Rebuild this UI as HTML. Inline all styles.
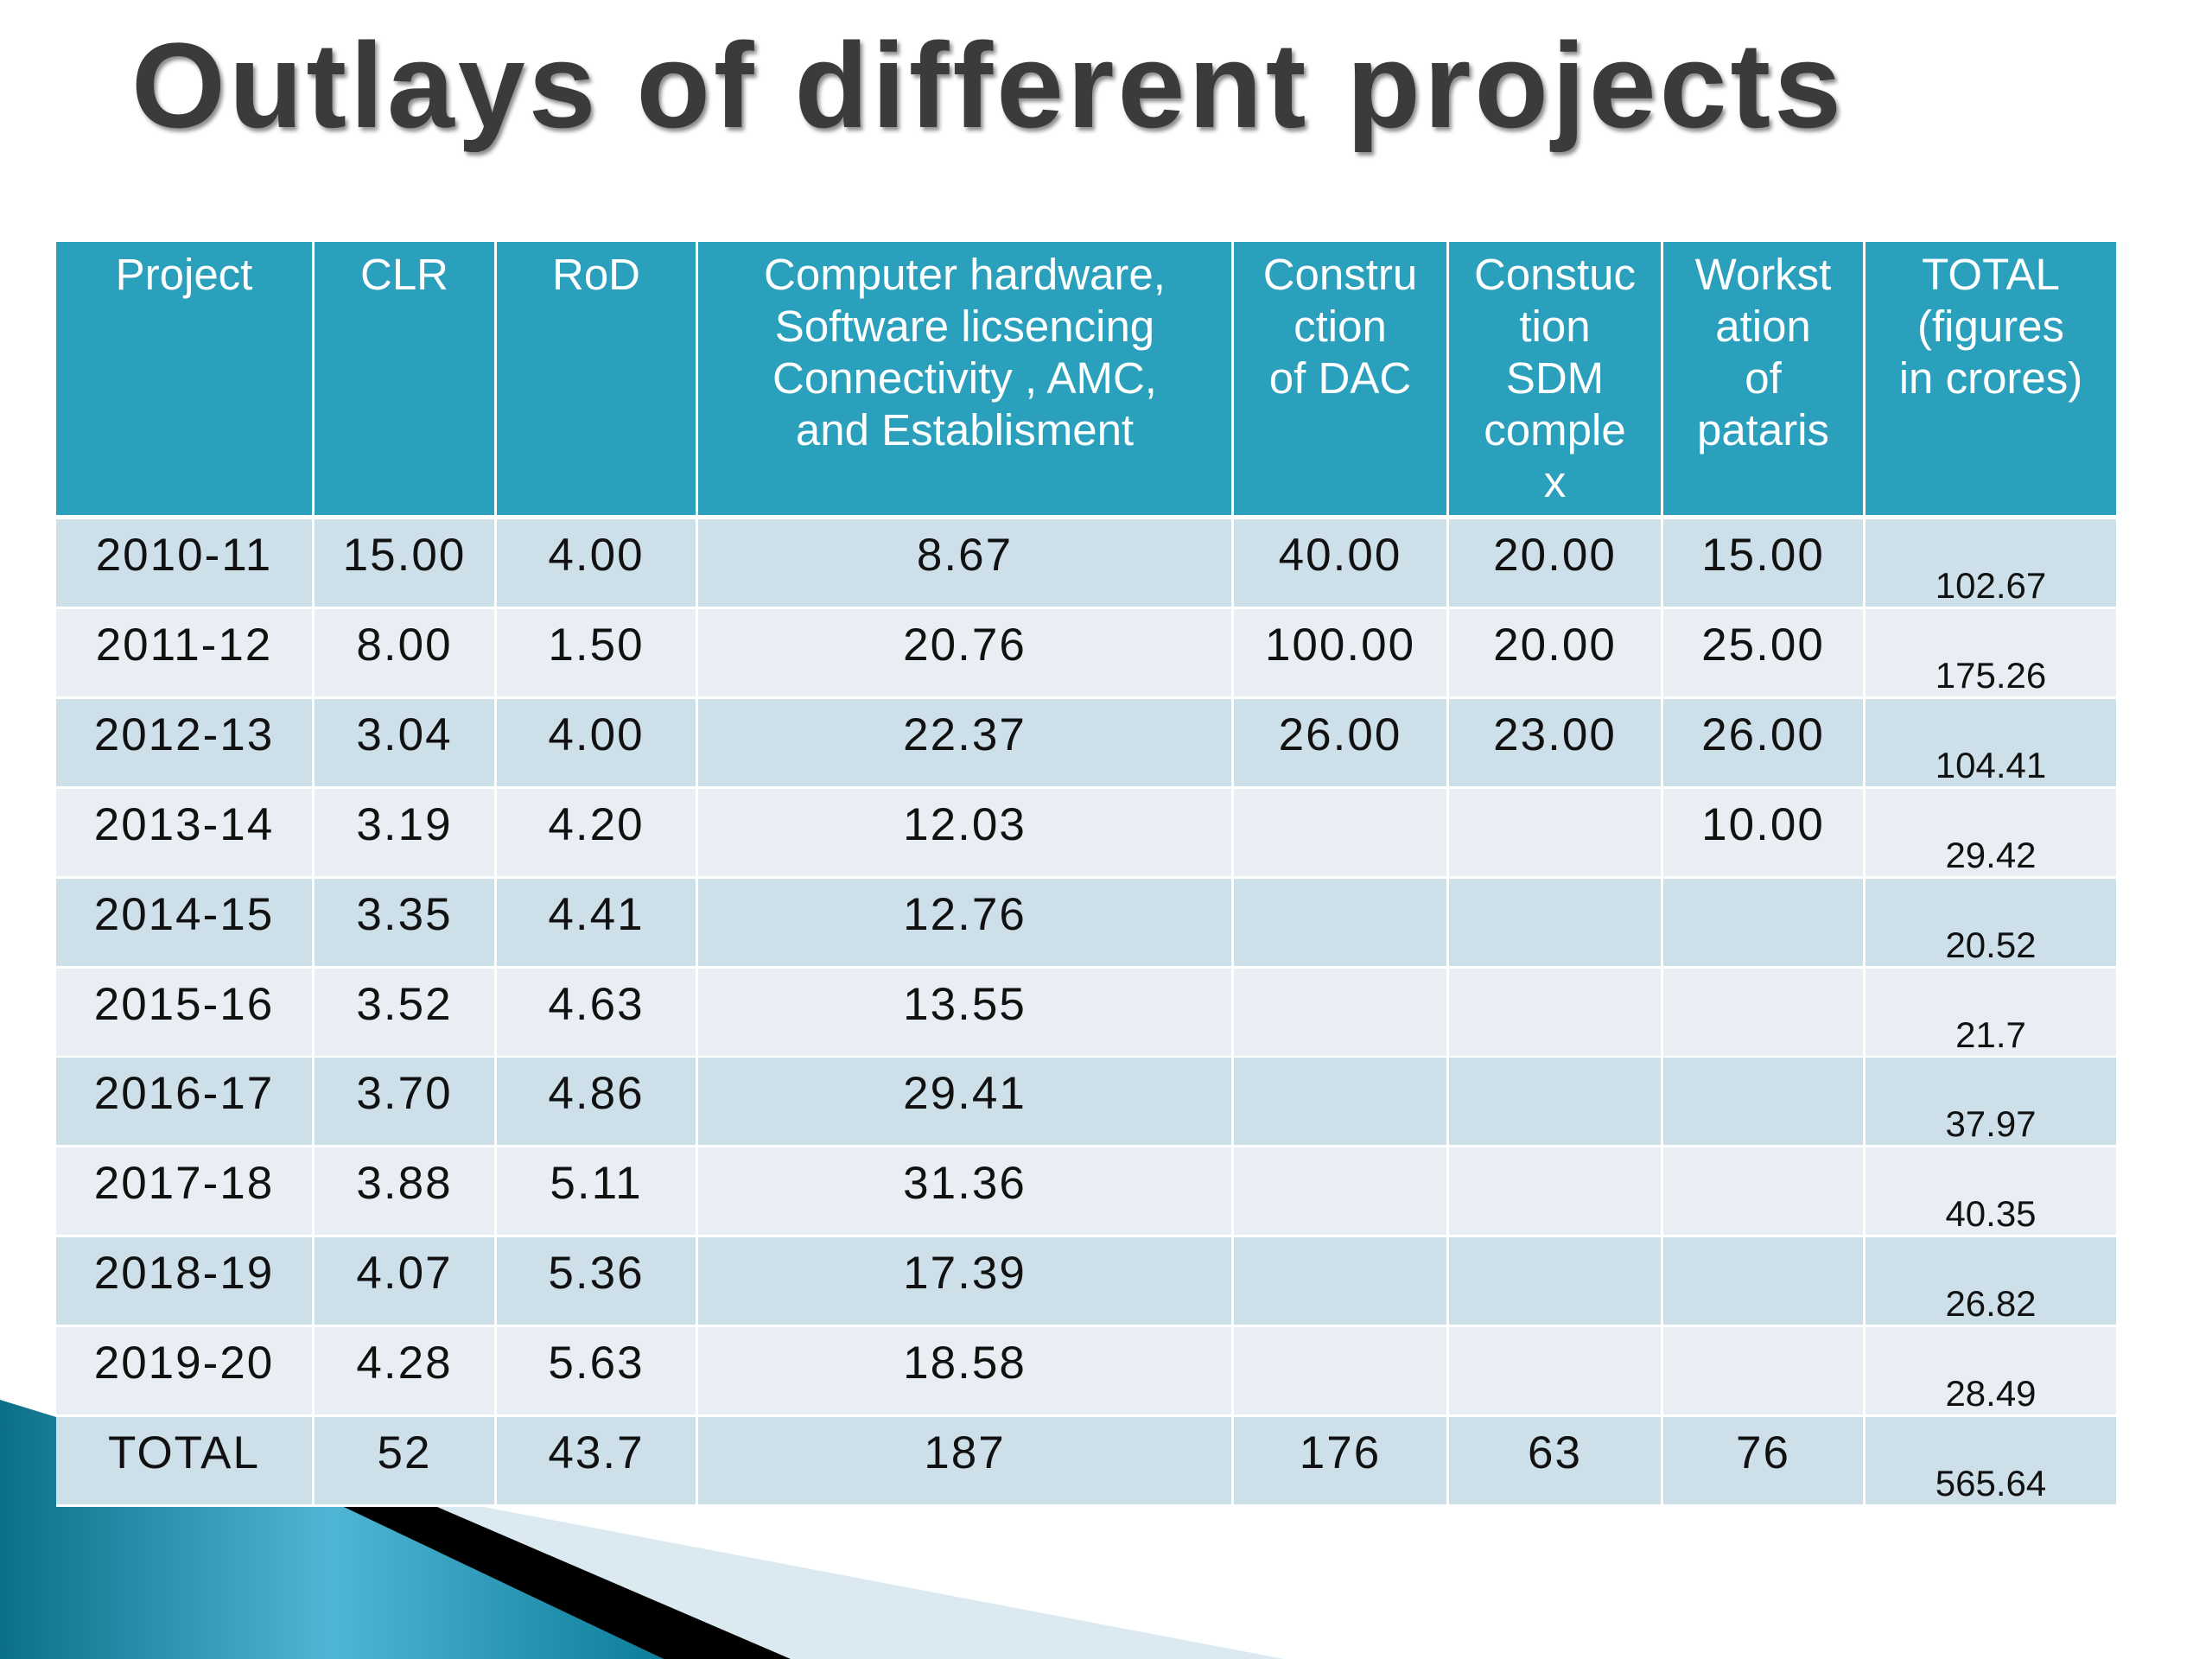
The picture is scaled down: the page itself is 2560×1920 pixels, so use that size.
<!DOCTYPE html>
<html><head><meta charset="utf-8"><style>
body{margin:0;width:2560px;height:1920px;position:relative;background:#fff;overflow:hidden;font-family:"Liberation Sans",sans-serif}
#title{position:absolute;left:152px;top:29px;font-size:140px;font-weight:bold;letter-spacing:4px;line-height:1;color:#3b3b3b;text-shadow:3px 4px 5px rgba(0,0,0,0.45);white-space:nowrap}
.cell{position:absolute;box-sizing:border-box;text-align:center}
.hd{background:#2aa0bd;color:#fff;font-size:51px;line-height:60px;padding-top:8px}
.dt{color:#111;font-size:53px;letter-spacing:2px;line-height:60px;padding-top:12px}
.tt{color:#111;font-size:42px;line-height:50px;padding-top:52px}
</style></head><body>
<svg style="position:absolute;left:0;top:0" width="2560" height="1920">
<defs><linearGradient id="tg" x1="0" y1="0" x2="1" y2="0"><stop offset="0" stop-color="#0b6f88"/><stop offset="0.5" stop-color="#4fb6d5"/><stop offset="1" stop-color="#0b7d9a"/></linearGradient></defs>
<polygon points="506,1744 560,1744 1486,1920 915,1920" fill="#dbeaf1"/>
<polygon points="0,1620 65,1640 65,1744 400,1744 768,1920 0,1920" fill="url(#tg)"/>
<polygon points="398,1744 506,1744 915,1920 768,1920" fill="#000"/>
</svg>
<div id="title">Outlays of different projects</div>
<div id="tbl"></div>
<script>
const headers=["Project","CLR","RoD","Computer hardware,<br>Software licsencing<br>Connectivity , AMC,<br>and Establisment","Constru<br>ction<br>of DAC","Constuc<br>tion<br>SDM<br>comple<br>x","Workst<br>ation<br>of<br>pataris","TOTAL<br>(figures<br>in crores)"];
const years=["2010-11","2011-12","2012-13","2013-14","2014-15","2015-16","2016-17","2017-18","2018-19","2019-20","TOTAL"];
const clr=["15.00","8.00","3.04","3.19","3.35","3.52","3.70","3.88","4.07","4.28","52"];
const rod=["4.00","1.50","4.00","4.20","4.41","4.63","4.86","5.11","5.36","5.63","43.7"];
const hw=["8.67","20.76","22.37","12.03","12.76","13.55","29.41","31.36","17.39","18.58","187"];
const dac=["40.00","100.00","26.00","","","","","","","","176"];
const sdm=["20.00","20.00","23.00","","","","","","","","63"];
const ws=["15.00","25.00","26.00","10.00","","","","","","","76"];
const total=["102.67","175.26","104.41","29.42","20.52","21.7","37.97","40.35","26.82","28.49","565.64"];
const edges=[65,364,575,808,1428,1677,1925,2159,2452];
const tbl=document.getElementById('tbl');
function cell(cls,x0,x1,y,h,html,bg,name){
  const d=document.createElement('div');
  d.className='cell '+cls;
  d.style.left=x0+'px';d.style.width=(x1-x0-3)+'px';d.style.top=y+'px';d.style.height=h+'px';
  if(bg)d.style.background=bg;
  d.innerHTML=html;
  
  
  tbl.appendChild(d);
}
headers.forEach((h,i)=>cell('hd',edges[i],edges[i+1],280,316,h,null,'header-cell'));
const cols=[years,clr,rod,hw,dac,sdm,ws,total];
for(let r=0;r<years.length;r++){
  const y=601+r*103.9, bg=r%2===0?'#cddfe8':'#e8eef4';
  cols.forEach((c,i)=>cell(i===7?'tt':'dt',edges[i],edges[i+1],y,101,c[r],bg,'data-cell'));
}
</script>
</body></html>
